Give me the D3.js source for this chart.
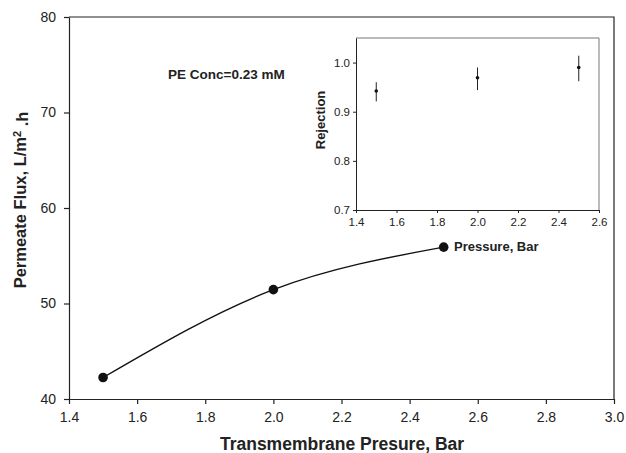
<!DOCTYPE html>
<html>
<head>
<meta charset="utf-8">
<script src="https://cdn.jsdelivr.net/npm/d3@7"></script>
<style>
  body { margin:0; background:#fff; }
  text { font-family: "Liberation Sans", Arial, sans-serif; fill:#222; }
  .bold { font-weight:bold; }
</style>
</head>
<body>
<div id="main"></div>
<script>
// main chart data
var pressure = [1.5, 2.0, 2.5]
var flux = [42.25, 51.45, 55.9]
var xTicks = [1.4, 1.6, 1.8, 2.0, 2.2, 2.4, 2.6, 2.8, 3.0]
var yTicks = [40, 50, 60, 70, 80]

// inset data
var rejPressure = [1.5, 2.0, 2.5]
var rejection = [0.942, 0.969, 0.990]
var rejLow = [0.921, 0.944, 0.962]
var rejHigh = [0.960, 0.990, 1.014]
var inXTicks = [1.4, 1.6, 1.8, 2.0, 2.2, 2.4, 2.6]
var inYTicks = [0.7, 0.8, 0.9, 1.0]

var W = 626, H = 453
var svg = d3.select("#main").append("svg").attr("width", W).attr("height", H)

var x = d3.scaleLinear().domain([1.4, 3.0]).range([69, 614])
var y = d3.scaleLinear().domain([40, 80]).range([399, 17])

var fmt = d3.format(".1f")

// frame (top + right)
svg.append("path").attr("d", "M69,17H614V399").attr("fill", "none").attr("stroke", "#222").attr("stroke-width", 1.2)

var gx = svg.append("g").attr("transform", "translate(0,399)")
  .call(d3.axisBottom(x).tickValues(xTicks).tickFormat(fmt).tickSize(5).tickSizeOuter(0))
var gy = svg.append("g").attr("transform", "translate(69,0)")
  .call(d3.axisLeft(y).tickValues(yTicks).tickSize(5).tickSizeOuter(0))
;[gx, gy].forEach(function(g){
  g.select(".domain").attr("stroke", "#222").attr("stroke-width", 1.2)
  g.selectAll(".tick line").attr("stroke", "#222").attr("stroke-width", 1.2)
  g.selectAll("text").style("font-size", "14px").style("font-family", "Liberation Sans, Arial, sans-serif").attr("fill", "#333")
})
gx.selectAll("text").attr("dy", "1.1em")
gy.selectAll("text").attr("dx", "-0.35em")

// axis titles
svg.append("text").attr("class", "bold").attr("x", 342).attr("y", 450)
  .attr("text-anchor", "middle").style("font-size", "17.5px").text("Transmembrane Presure, Bar")

var yt = svg.append("text").attr("class", "bold").attr("transform", "translate(26,200) rotate(-90)")
  .attr("text-anchor", "middle").style("font-size", "16.5px")
yt.append("tspan").text("Permeate Flux, L/m")
yt.append("tspan").attr("dy", "-0.45em").style("font-size", "11px").text("2")
yt.append("tspan").attr("dy", "0.45em").text(" .h")

// main line
var pts = pressure.map(function(p, i){ return [p, flux[i]] })
svg.append("path").datum(pts)
  .attr("d", d3.line().x(function(d){return x(d[0])}).y(function(d){return y(d[1])}).curve(d3.curveNatural))
  .attr("fill", "none").attr("stroke", "#111").attr("stroke-width", 1.4)
svg.selectAll("circle.main").data(pts).enter().append("circle").attr("class", "main")
  .attr("cx", function(d){return x(d[0])}).attr("cy", function(d){return y(d[1])})
  .attr("r", 4.8).attr("fill", "#111")

svg.append("text").attr("class", "bold").attr("x", 168).attr("y", 79)
  .style("font-size", "13.5px").text("PE Conc=0.23 mM")

// inset
var ix = d3.scaleLinear().domain([1.4, 2.6]).range([356, 599])
var iy = d3.scaleLinear().domain([0.7, 1.05]).range([210, 38])

svg.append("path").attr("d", "M356,38H599V210").attr("fill", "none").attr("stroke", "#777").attr("stroke-width", 1)
var igx = svg.append("g").attr("transform", "translate(0,210)")
  .call(d3.axisBottom(ix).tickValues(inXTicks).tickFormat(fmt).tickSize(3).tickSizeOuter(0))
var igy = svg.append("g").attr("transform", "translate(356,0)")
  .call(d3.axisLeft(iy).tickValues(inYTicks).tickFormat(fmt).tickSize(3).tickSizeOuter(0))
;[igx, igy].forEach(function(g){
  g.select(".domain").attr("stroke", "#222").attr("stroke-width", 1)
  g.selectAll(".tick line").attr("stroke", "#222")
  g.selectAll("text").style("font-size", "11.5px").style("font-family", "Liberation Sans, Arial, sans-serif").attr("fill", "#333")
})
igx.selectAll("text").attr("dy", "0.9em")

svg.append("text").attr("class", "bold").attr("transform", "translate(325,120) rotate(-90)")
  .attr("text-anchor", "middle").style("font-size", "13px").text("Rejection")
svg.append("text").attr("class", "bold").attr("x", 454).attr("y", 251)
  .style("font-size", "13px").text("Pressure, Bar")

var ipts = rejPressure.map(function(p, i){ return {p:p, v:rejection[i], lo:rejLow[i], hi:rejHigh[i]} })
svg.selectAll("line.err").data(ipts).enter().append("line").attr("class", "err")
  .attr("x1", function(d){return ix(d.p)}).attr("x2", function(d){return ix(d.p)})
  .attr("y1", function(d){return iy(d.lo)}).attr("y2", function(d){return iy(d.hi)})
  .attr("stroke", "#222").attr("stroke-width", 1)
svg.selectAll("circle.rej").data(ipts).enter().append("circle").attr("class", "rej")
  .attr("cx", function(d){return ix(d.p)}).attr("cy", function(d){return iy(d.v)})
  .attr("r", 1.8).attr("fill", "#111")
</script>
</body>
</html>
